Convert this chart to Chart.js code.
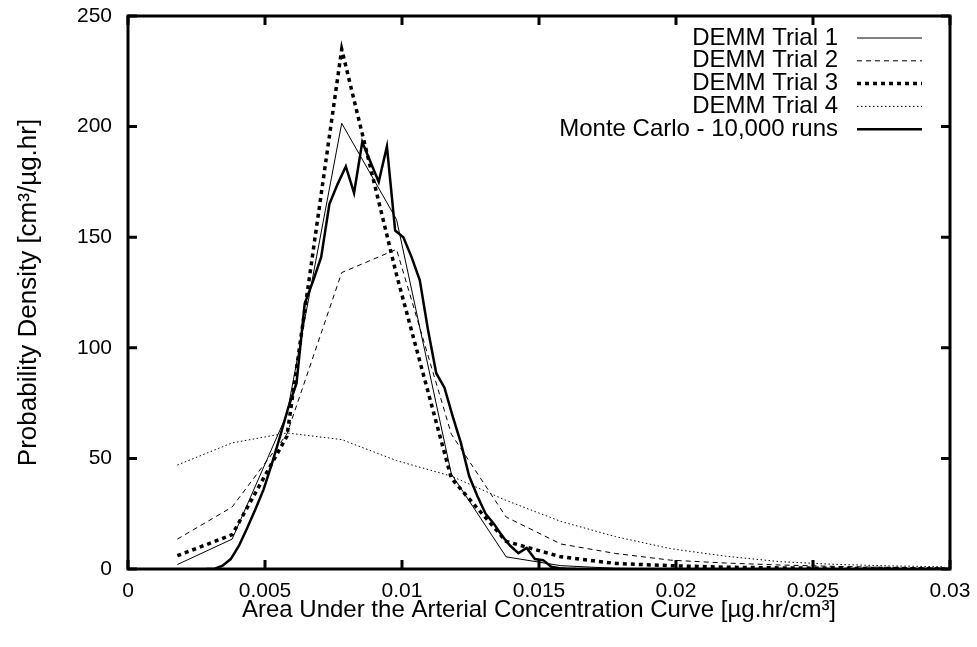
<!doctype html>
<html lang="en">

<head>
    <meta charset="utf-8">
    <title>DEMM vs Monte Carlo - AUC density</title>
    <style>
        body {
            margin: 0;
            background: #fff;
        }

        canvas {
            display: block;
        }
    </style>
    <script src="https://cdn.jsdelivr.net/npm/chart.js"></script>
</head>

<body>
    <canvas id="auc" width="977" height="647"></canvas>
    <script>
        // histogram bin centres for the DEMM trials
        const demmX = [0.0018, 0.0038, 0.0058, 0.0078, 0.0098, 0.0118, 0.0138, 0.0158,
            0.0178, 0.0198, 0.0218, 0.0238, 0.0258, 0.0278, 0.0298];
        const trial1 = [2, 13.5, 70, 201.5, 158, 43, 5.5, 1.5, 0.3, 0, 0, 0, 0, 0, 0];
        const trial2 = [13.5, 28, 61, 134, 144.5, 61, 23.5, 11.3, 7, 4, 2.7, 1.8, 1.2, 0.7, 0.4];
        const trial3 = [6, 15.5, 60, 235, 133, 41, 12.5, 5.5, 2.5, 1.5, 0.8, 0.5, 0.3, 0.2, 0.1];
        const trial4 = [47, 57, 61.5, 58.5, 49, 42, 31, 21.5, 14.6, 9.2, 5.8, 3.3, 2.1, 1.4, 1];

        // Monte Carlo histogram (finer bins)
        const mcX = [0.00285, 0.00315, 0.00345, 0.00375, 0.00405, 0.00435, 0.00465, 0.00495,
            0.00525, 0.00555, 0.00585, 0.00615, 0.00645, 0.00675, 0.00705, 0.00735, 0.00765,
            0.00795, 0.00825, 0.00855, 0.00885, 0.00915, 0.00945, 0.00975, 0.01005, 0.01035,
            0.01065, 0.01095, 0.01125, 0.01155, 0.01185, 0.01215, 0.01245, 0.01275, 0.01305,
            0.01335, 0.01365, 0.01395, 0.01425, 0.01455, 0.01485, 0.01515, 0.01545, 0.01575,
            0.01605, 0.01635];
        const monteCarlo = [0, 0, 1.5, 4.5, 10.5, 18.5, 27, 36, 47.5, 60, 73, 84, 120, 130,
            141, 165, 174, 182, 170, 193, 184, 175, 191, 153, 150, 141, 130.5, 108, 88.5, 82,
            69, 57, 42, 33, 25, 20.5, 15, 10.5, 7.2, 9.5, 4.5, 4, 1, 0.3, 0, 0];

        const xTicks = [0, 0.005, 0.01, 0.015, 0.02, 0.025, 0.03];
        const xTickLabels = ['0', '0.005', '0.01', '0.015', '0.02', '0.025', '0.03'];
        const yTicks = [0, 50, 100, 150, 200, 250];
        const yTickLabels = ['0', '50', '100', '150', '200', '250'];

        const seriesNames = ['DEMM Trial 1', 'DEMM Trial 2', 'DEMM Trial 3', 'DEMM Trial 4',
            'Monte Carlo - 10,000 runs'];

        const FONT = "'Liberation Sans', Arial, Helvetica, sans-serif";
        Chart.defaults.font.family = FONT;
        Chart.defaults.font.size = 21;
        Chart.defaults.color = '#000';

        function pts(xs, ys) {
            return xs.map((x, i) => ({ x: x, y: ys[i] }));
        }

        // gnuplot-like frame: thick border, inward ticks on all sides, key in the corner
        const gnuplotFrame = {
            id: 'gnuplotFrame',
            afterDatasetsDraw(chart) {
                const { ctx, chartArea: a, scales } = chart;
                const tl = 9;
                ctx.save();
                ctx.strokeStyle = '#000';
                ctx.lineWidth = 3;
                ctx.setLineDash([]);
                ctx.beginPath();
                xTicks.forEach(v => {
                    const px = scales.x.getPixelForValue(v);
                    ctx.moveTo(px, a.bottom); ctx.lineTo(px, a.bottom - tl);
                    ctx.moveTo(px, a.top); ctx.lineTo(px, a.top + tl);
                });
                yTicks.forEach(v => {
                    const py = scales.y.getPixelForValue(v);
                    ctx.moveTo(a.left, py); ctx.lineTo(a.left + tl, py);
                    ctx.moveTo(a.right, py); ctx.lineTo(a.right - tl, py);
                });
                ctx.stroke();
                ctx.strokeRect(a.left, a.top, a.right - a.left, a.bottom - a.top);

                // key
                ctx.font = '24px ' + FONT;
                ctx.fillStyle = '#000';
                ctx.textAlign = 'right';
                ctx.textBaseline = 'middle';
                chart.data.datasets.forEach((ds, i) => {
                    const yy = 38 + i * 22.8;
                    ctx.fillText(ds.label, 838, yy);
                    ctx.lineWidth = ds.borderWidth;
                    ctx.setLineDash(ds.borderDash || []);
                    ctx.lineCap = 'butt';
                    ctx.beginPath();
                    ctx.moveTo(857, yy);
                    ctx.lineTo(922, yy);
                    ctx.stroke();
                });
                ctx.restore();
            }
        };

        const line = (label, xs, ys, width, dash, order) => ({
            label: label,
            data: pts(xs, ys),
            borderColor: '#000',
            borderWidth: width,
            borderDash: dash,
            borderCapStyle: 'butt',
            pointRadius: 0,
            fill: false,
            tension: 0,
            order: order
        });

        new Chart(document.getElementById('auc').getContext('2d'), {
            type: 'line',
            data: {
                datasets: [
                    line(seriesNames[0], demmX, trial1, 1, [], 5),
                    line(seriesNames[1], demmX, trial2, 1, [5, 4], 4),
                    line(seriesNames[2], demmX, trial3, 3.5, [4, 4], 3),
                    line(seriesNames[3], demmX, trial4, 1, [1.5, 2.5], 2),
                    line(seriesNames[4], mcX, monteCarlo, 2.5, [], 1)
                ]
            },
            options: {
                responsive: false,
                animation: false,
                layout: {
                    padding: { top: 16, right: 27, bottom: 0, left: 0 }
                },
                scales: {
                    x: {
                        type: 'linear',
                        min: 0,
                        max: 0.03,
                        afterBuildTicks: s => { s.ticks = xTicks.map(v => ({ value: v })); },
                        afterFit: s => {
                            s.height = 78;
                            s.paddingLeft = 0;
                            s.paddingRight = 0;
                        },
                        ticks: {
                            padding: 10,
                            maxRotation: 0,
                            autoSkip: false,
                            callback: (v, i) => xTickLabels[i]
                        },
                        grid: { display: false, drawTicks: false },
                        border: { display: false },
                        title: {
                            display: true,
                            text: 'Area Under the Arterial Concentration Curve [µg.hr/cm³]',
                            font: { size: 24 },
                            padding: { top: 0, bottom: 22 }
                        }
                    },
                    y: {
                        type: 'linear',
                        min: 0,
                        max: 250,
                        afterBuildTicks: s => { s.ticks = yTicks.map(v => ({ value: v })); },
                        afterFit: s => {
                            s.width = 128;
                            s.paddingTop = 0;
                            s.paddingBottom = 0;
                        },
                        ticks: {
                            padding: 16,
                            autoSkip: false,
                            callback: (v, i) => yTickLabels[i]
                        },
                        grid: { display: false, drawTicks: false },
                        border: { display: false },
                        title: {
                            display: true,
                            text: 'Probability Density [cm³/µg.hr]',
                            font: { size: 26 },
                            padding: { top: 13, bottom: 0 }
                        }
                    }
                },
                plugins: {
                    legend: { display: false },
                    tooltip: { enabled: false }
                }
            },
            plugins: [gnuplotFrame]
        });
    </script>
</body>

</html>
